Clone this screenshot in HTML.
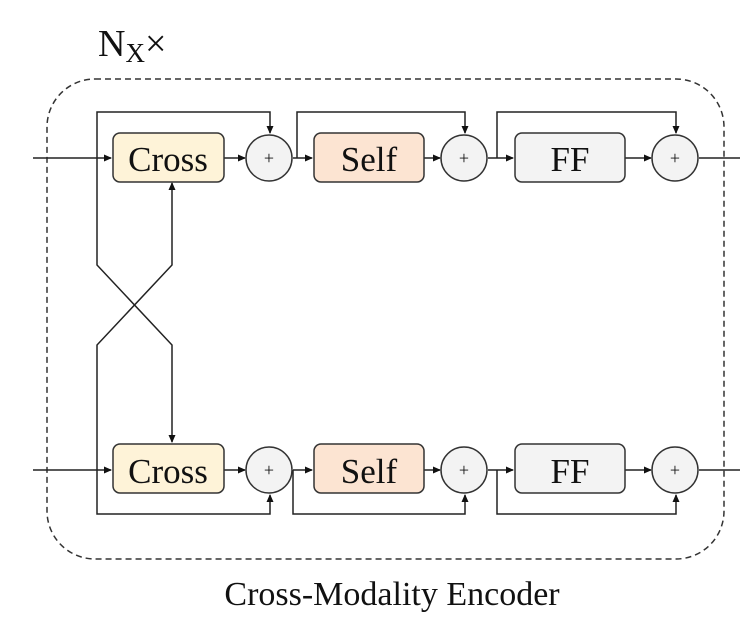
<!DOCTYPE html>
<html><head><meta charset="utf-8"><style>
body{margin:0;background:#fff}
svg{display:block}
text{font-family:"Liberation Serif",serif;fill:#111}
</style></head><body>
<svg width="749" height="624" viewBox="0 0 749 624">
<defs><marker id="ah" markerWidth="8" markerHeight="8" refX="7" refY="4" orient="auto" markerUnits="userSpaceOnUse"><path d="M0,0.5 L8,4 L0,7.5z" fill="#111"/></marker></defs>
<text x="98" y="56" font-size="38">N<tspan font-size="27" dy="6">X</tspan><tspan dy="-6">×</tspan></text>
<rect x="47" y="79" width="677" height="480" rx="48" fill="none" stroke="#333" stroke-width="1.5" stroke-dasharray="6,4"/>
<g stroke="#222" stroke-width="1.5" fill="none">
<path d="M33,158 H111" marker-end="url(#ah)"/>
<path d="M97,158 V112 H270 V133" marker-end="url(#ah)"/>
<path d="M224,158 H245" marker-end="url(#ah)"/>
<path d="M293,158 H312" marker-end="url(#ah)"/>
<path d="M297,158 V112 H465 V133" marker-end="url(#ah)"/>
<path d="M424,158 H440" marker-end="url(#ah)"/>
<path d="M488,158 H513" marker-end="url(#ah)"/>
<path d="M497,158 V112 H676 V133" marker-end="url(#ah)"/>
<path d="M625,158 H651" marker-end="url(#ah)"/>
<path d="M699,158 H740"/>
<path d="M97,158 V265 L172,345 V442" marker-end="url(#ah)"/>
<path d="M97,470 V345 L172,265 V183" marker-end="url(#ah)"/>
<path d="M33,470 H111" marker-end="url(#ah)"/>
<path d="M97,470 V514 H270 V495" marker-end="url(#ah)"/>
<path d="M224,470 H245" marker-end="url(#ah)"/>
<path d="M293,470 H312" marker-end="url(#ah)"/>
<path d="M293,470 V514 H465 V495" marker-end="url(#ah)"/>
<path d="M424,470 H440" marker-end="url(#ah)"/>
<path d="M488,470 H513" marker-end="url(#ah)"/>
<path d="M497,470 V514 H676 V495" marker-end="url(#ah)"/>
<path d="M625,470 H651" marker-end="url(#ah)"/>
<path d="M699,470 H740"/>
</g>
<g stroke="#333" stroke-width="1.5">
<rect x="113" y="133" width="111" height="49" rx="7" fill="#fef3d8"/>
<rect x="314" y="133" width="110" height="49" rx="7" fill="#fce4d2"/>
<rect x="515" y="133" width="110" height="49" rx="7" fill="#f3f3f3"/>
<rect x="113" y="444" width="111" height="49" rx="7" fill="#fef3d8"/>
<rect x="314" y="444" width="110" height="49" rx="7" fill="#fce4d2"/>
<rect x="515" y="444" width="110" height="49" rx="7" fill="#f3f3f3"/>
<circle cx="269" cy="158" r="23" fill="#f3f3f3"/>
<circle cx="464" cy="158" r="23" fill="#f3f3f3"/>
<circle cx="675" cy="158" r="23" fill="#f3f3f3"/>
<circle cx="269" cy="470" r="23" fill="#f3f3f3"/>
<circle cx="464" cy="470" r="23" fill="#f3f3f3"/>
<circle cx="675" cy="470" r="23" fill="#f3f3f3"/>
</g>
<g font-size="35" text-anchor="middle">
<text x="168" y="171">Cross</text><text x="369" y="171">Self</text><text x="570" y="171">FF</text>
<text x="168" y="483">Cross</text><text x="369" y="483">Self</text><text x="570" y="483">FF</text>
</g>
<g font-size="18" text-anchor="middle" style="fill:#444">
<text x="269" y="164">+</text><text x="464" y="164">+</text><text x="675" y="164">+</text>
<text x="269" y="476">+</text><text x="464" y="476">+</text><text x="675" y="476">+</text>
</g>
<text x="392" y="605" font-size="34" text-anchor="middle">Cross-Modality Encoder</text>
</svg>
</body></html>
